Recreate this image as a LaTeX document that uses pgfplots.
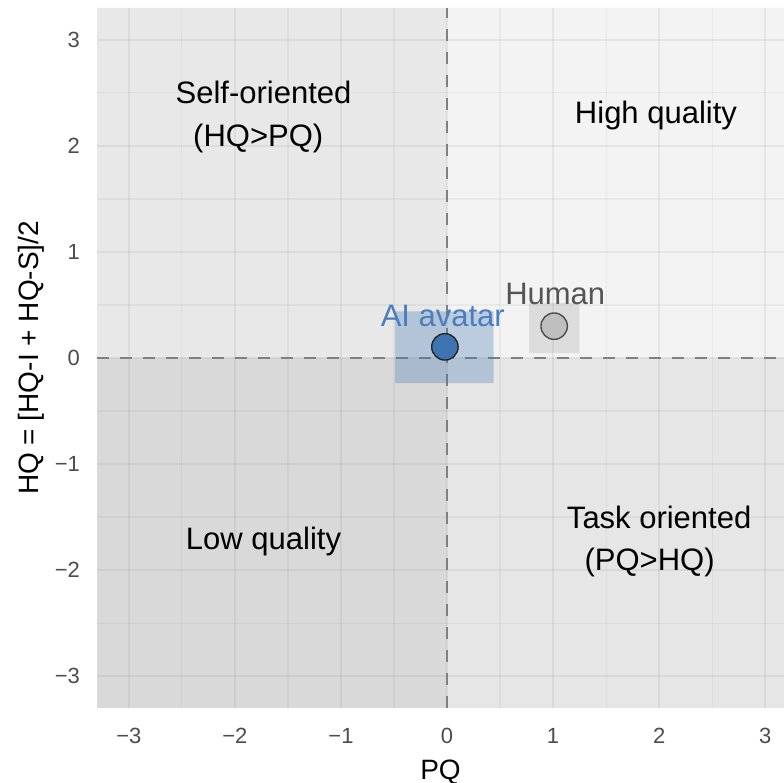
\documentclass[border=0pt]{standalone}
\usepackage{pgfplots}
\pgfplotsset{compat=1.18}
\usepackage{fontspec}
\setmainfont{Liberation Sans}
\definecolor{qTL}{HTML}{E8E8E8}
\definecolor{qTR}{HTML}{F3F3F3}
\definecolor{qBL}{HTML}{D9D9D9}
\definecolor{qBR}{HTML}{E6E6E6}
\definecolor{aiblue}{HTML}{3F74B3}
\definecolor{aitext}{HTML}{4A7EBD}
\definecolor{humfill}{HTML}{BEBEBE}
\definecolor{humtext}{HTML}{555555}
\begin{document}
\begin{tikzpicture}
\begin{axis}[
  name=ax,
  set layers,
  scale only axis,
  width=343.5pt, height=350pt,
  xmin=-3.3, xmax=3.177, ymin=-3.3, ymax=3.3,
  axis line style={draw=none},
  xtick={-3,-2,-1,0,1,2,3}, ytick={-3,-2,-1,0,1,2,3},
  xticklabels={−3,−2,−1,0,1,2,3},
  yticklabels={−3,−2,−1,0,1,2,3},
  minor xtick={-2.5,-1.5,-0.5,0.5,1.5,2.5},
  minor ytick={-2.5,-1.5,-0.5,0.5,1.5,2.5},
  grid=both,
  major grid style={black, opacity=0.055, line width=1pt},
  minor grid style={black, opacity=0.04, line width=0.6pt},
  major tick length=0pt, minor tick length=0pt,
  tick style={draw=none},
  ticklabel style={font=\fontsize{11}{13}\selectfont, text=black!70},
  xticklabel style={yshift=-6.5pt},
  yticklabel style={xshift=-5pt},
  xlabel={PQ}, ylabel={HQ = [HQ-I + HQ-S]/2},
  label style={font=\fontsize{14}{16}\selectfont},
  xlabel style={yshift=-1.5pt},
  ylabel style={yshift=-1.5pt},
  clip=true,
]
% quadrant backgrounds
\addplot[on layer=axis background, fill=qTL, draw=none] coordinates {(-3.3,0) (0,0) (0,3.3) (-3.3,3.3) (-3.3,0)};
\addplot[on layer=axis background, fill=qTR, draw=none] coordinates {(0,0) (3.177,0) (3.177,3.3) (0,3.3) (0,0)};
\addplot[on layer=axis background, fill=qBL, draw=none] coordinates {(-3.3,-3.3) (0,-3.3) (0,0) (-3.3,0) (-3.3,-3.3)};
\addplot[on layer=axis background, fill=qBR, draw=none] coordinates {(0,-3.3) (3.177,-3.3) (3.177,0) (0,0) (0,-3.3)};
% dashed reference lines
\addplot[draw=black!50, line width=1.1pt, dash pattern=on 6pt off 5.5pt] coordinates {(0,-3.3) (0,3.3)};
\addplot[draw=black!50, line width=1.1pt, dash pattern=on 6pt off 5.5pt] coordinates {(-3.3,0) (3.177,0)};
% uncertainty rectangles
\addplot[fill=aiblue, fill opacity=0.3, draw=none] coordinates {(-0.49,-0.236) (0.44,-0.236) (0.44,0.44) (-0.49,0.44) (-0.49,-0.236)};
\addplot[fill=black!40, fill opacity=0.25, draw=none] coordinates {(0.773,0.047) (1.247,0.047) (1.247,0.52) (0.773,0.52) (0.773,0.047)};
% points
\addplot[only marks, mark=*, mark size=6.6pt, mark options={fill=aiblue, draw=black!85, line width=0.7pt}] coordinates {(-0.02,0.105)};
\addplot[only marks, mark=*, mark size=6.6pt, mark options={fill=humfill, draw=black!70, line width=0.7pt}] coordinates {(1.01,0.30)};
% labels
\node[font=\fontsize{15.5}{18}\selectfont, text=aitext] at (axis cs:-0.04,0.40) {AI avatar};
\node[font=\fontsize{15.5}{18}\selectfont, text=humtext] at (axis cs:1.02,0.60) {Human};
\node[font=\fontsize{15.5}{18}\selectfont] at (axis cs:-1.73,2.50) {Self-oriented};
\node[font=\fontsize{15.5}{18}\selectfont] at (axis cs:-1.78,2.07) {(HQ>PQ)};
\node[font=\fontsize{15.5}{18}\selectfont] at (axis cs:1.97,2.29) {High quality};
\node[font=\fontsize{15.5}{18}\selectfont] at (axis cs:-1.73,-1.73) {Low quality};
\node[font=\fontsize{15.5}{18}\selectfont] at (axis cs:2.00,-1.50) {Task oriented};
\node[font=\fontsize{15.5}{18}\selectfont] at (axis cs:1.91,-1.93) {(PQ>HQ)};
\end{axis}
\pgfresetboundingbox
\path[use as bounding box] ([xshift=-48.5pt,yshift=-37.5pt]ax.south west) rectangle ([yshift=4pt]ax.north east);
\end{tikzpicture}
\end{document}
